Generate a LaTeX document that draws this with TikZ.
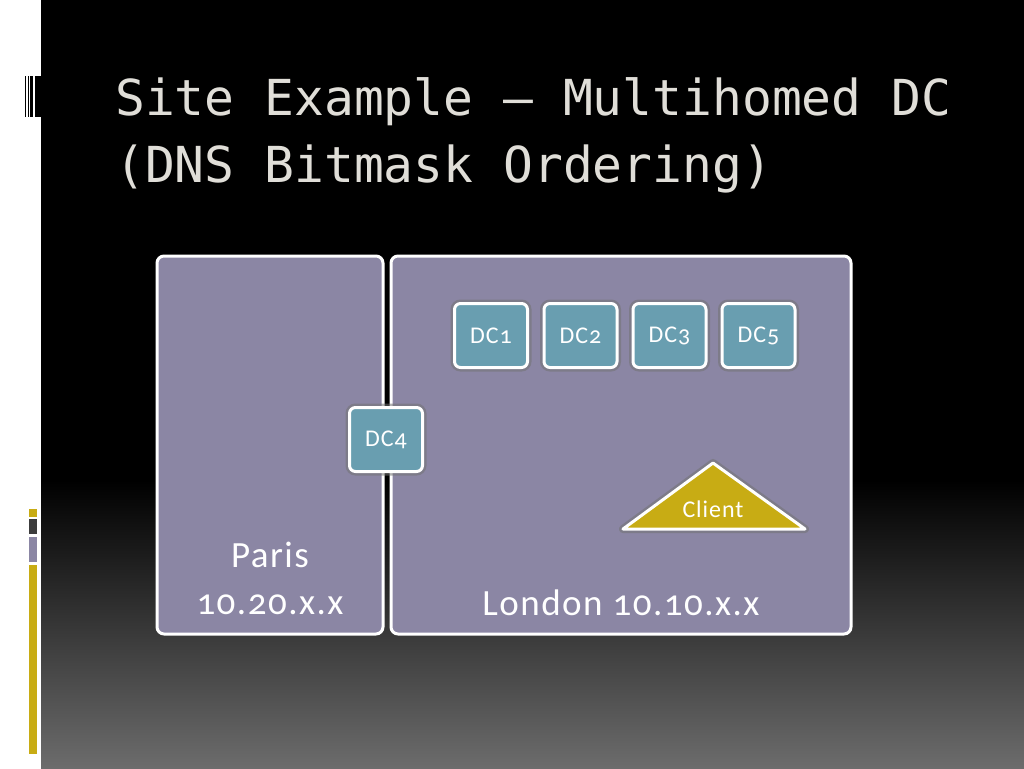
\documentclass[tikz,border=0pt]{standalone}
\usepackage{fontspec}
\setmainfont{Carlito}[Numbers=OldStyle, LetterSpace=4]
\newfontfamily\titlefont{DejaVu Sans Mono}
\definecolor{lav}{RGB}{139,134,164}
\definecolor{teal2}{RGB}{105,158,176}
\definecolor{gold}{RGB}{200,172,20}
\definecolor{titlegray}{RGB}{224,222,216}
\definecolor{darkstrip}{RGB}{60,60,60}
\tikzset{
  sitebox/.style={draw=white, line width=3pt, fill=lav, rounded corners=7pt},
  dcbox/.style={draw=white, line width=3pt, fill=teal2, rounded corners=6pt,
    minimum width=73pt, minimum height=64pt, inner sep=0pt,
    text=white, font=\fontsize{24}{30}\selectfont,
    preaction={draw=black!55, opacity=0.55, line width=8pt}},
  sitelabel/.style={text=white, font=\fontsize{37}{49}\selectfont, align=center},
}
\begin{document}
\begin{tikzpicture}[x=1pt,y=-1pt]
\useasboundingbox (0,0) rectangle (1024,768);
\fill[white] (0,0) rectangle (1024,768);
\fill[black] (41,0) rectangle (1024,481);
\shade[top color=black, bottom color={rgb,255:red,108;green,108;blue,108}] (41,480) rectangle (1024,768);
% barcode
\foreach \a/\b in {25/26,27.5/29,30/33,34.5/41}{\fill[black] (\a,76) rectangle (\b,117);}
% left strips
\fill[gold] (29,509) rectangle (37,517);
\fill[darkstrip] (29,519) rectangle (37,534);
\fill[lav] (29,537) rectangle (37,562);
\fill[gold] (29,565) rectangle (37,754);
% title
\node[anchor=base west, text=titlegray, font=\titlefont\fontsize{49.6}{58}\selectfont, inner sep=0pt] (t1) at (115,115) {Site Example – Multihomed DC};
\node[anchor=base west, text=titlegray, font=\titlefont\fontsize{49.6}{58}\selectfont, inner sep=0pt] (t2) at (115,182) {(DNS Bitmask Ordering)};
% site boxes
\draw[sitebox] (157,256) rectangle (383,634);
\draw[sitebox] (391,256) rectangle (851,634);
\node[sitelabel, anchor=base] (paris) at (270,567) {Paris};
\node[sitelabel, anchor=base] (parisip) at (270,614) {10.20.x.x};
\node[sitelabel, anchor=base] (london) at (621,615) {London 10.10.x.x};
% DCs
\node[dcbox] (dc1) at (491,335.5) {DC1};
\node[dcbox] (dc2) at (580.5,335.5) {DC2};
\node[dcbox] (dc3) at (669.5,335.5) {DC3};
\node[dcbox] (dc5) at (758.5,335.5) {DC5};
\node[dcbox] (dc4) at (386,439.5) {DC4};
% client
\draw[black!55, opacity=0.55, line width=8pt, line join=round] (713,463) -- (805,529) -- (623,529) -- cycle;
\draw[white, line width=3pt, fill=gold, line join=round] (713,463) -- (805,529) -- (623,529) -- cycle;
\node[text=white, font=\fontsize{24}{30}\selectfont] (client) at (713,509) {Client};
\end{tikzpicture}
\end{document}
